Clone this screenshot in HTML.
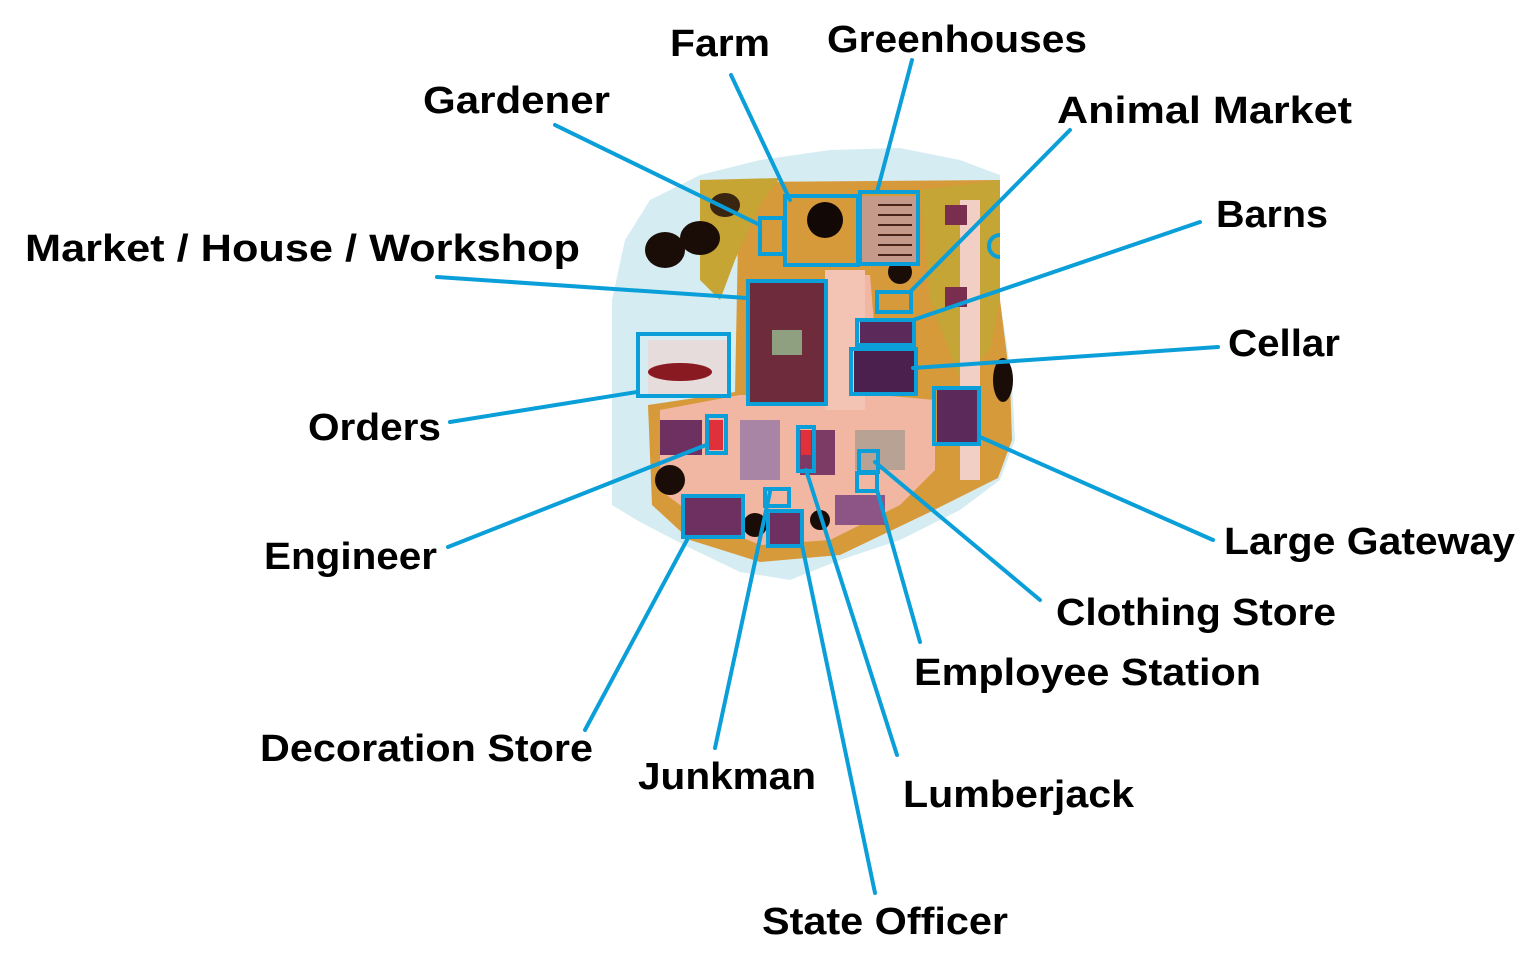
<!DOCTYPE html>
<html><head><meta charset="utf-8"><style>
html,body{margin:0;padding:0;background:#fff;}
svg{display:block;}
text{font-family:"Liberation Sans",sans-serif;font-weight:bold;font-size:38px;fill:#000;}
</style></head><body>
<svg width="1540" height="975" viewBox="0 0 1540 975" xmlns="http://www.w3.org/2000/svg">
<!-- map base -->
<polygon fill="#d6ecf3" points="650,200 700,175 760,160 830,150 900,148 960,160 1000,175 1000,300 1012,380 1015,440 1000,480 960,510 900,540 840,560 790,580 740,572 690,548 640,522 612,505 612,300 625,240"/>
<polygon fill="#d79a3a" points="740,182 1000,180 1000,300 1010,380 1012,440 998,478 930,512 840,555 760,562 690,540 652,505 648,405 735,392 738,240"/>
<polygon fill="#c6a534" points="700,180 780,178 760,205 735,260 720,300 700,280 700,230"/>
<polygon fill="#c5a535" points="920,190 1000,180 1000,300 990,350 960,380 930,300"/>
<!-- pink roads -->
<polygon fill="#f1b7a3" points="740,395 835,395 835,275 870,275 880,395 935,400 935,470 900,505 830,540 760,545 700,520 660,490 660,410"/>
<rect x="825" y="270" width="40" height="140" fill="#f3c3b3"/>
<rect x="960" y="200" width="20" height="280" fill="#f2cfc4"/>
<!-- black blobs -->
<ellipse cx="665" cy="250" rx="20" ry="18" fill="#1a0d08"/>
<ellipse cx="700" cy="238" rx="20" ry="17" fill="#1a0d08"/>
<ellipse cx="725" cy="205" rx="15" ry="12" fill="#3a2510"/>
<ellipse cx="825" cy="220" rx="18" ry="18" fill="#120805"/>
<ellipse cx="900" cy="272" rx="12" ry="12" fill="#1a0d08"/>
<ellipse cx="1003" cy="380" rx="10" ry="22" fill="#1a0d08"/>
<ellipse cx="670" cy="480" rx="15" ry="15" fill="#1a0d08"/>
<ellipse cx="755" cy="525" rx="12" ry="12" fill="#1a0d08"/>
<ellipse cx="820" cy="520" rx="10" ry="10" fill="#1a0d08"/>
<!-- purple blocks -->
<rect x="750" y="283" width="74" height="120" fill="#6e2b3b"/>
<rect x="772" y="330" width="30" height="25" fill="#8fa080"/>
<rect x="862" y="196" width="54" height="66" fill="#c59a8a"/>
<g stroke="#4a2418" stroke-width="2"><line x1="878" y1="205" x2="912" y2="205"/><line x1="878" y1="215" x2="912" y2="215"/><line x1="878" y1="225" x2="912" y2="225"/><line x1="878" y1="235" x2="912" y2="235"/><line x1="878" y1="245" x2="912" y2="245"/><line x1="878" y1="255" x2="912" y2="255"/></g>
<rect x="860" y="322" width="52" height="22" fill="#5c2a5a"/>
<rect x="854" y="351" width="60" height="42" fill="#4b1f4e"/>
<rect x="937" y="390" width="40" height="52" fill="#5c2a5a"/>
<rect x="945" y="205" width="22" height="20" fill="#7a2e4f"/>
<rect x="945" y="287" width="22" height="20" fill="#7a2e4f"/>
<rect x="648" y="340" width="80" height="55" fill="#e7dcdc"/>
<ellipse cx="680" cy="372" rx="32" ry="9" fill="#8a1a22"/>
<rect x="660" y="420" width="42" height="35" fill="#6d3060"/>
<rect x="685" y="498" width="56" height="38" fill="#6d3060"/>
<rect x="770" y="512" width="30" height="32" fill="#6d3060"/>
<rect x="740" y="420" width="40" height="60" fill="#a884a5"/>
<rect x="800" y="430" width="35" height="45" fill="#7b3b64"/>
<rect x="855" y="430" width="50" height="40" fill="#b7a294"/>
<rect x="835" y="495" width="50" height="30" fill="#8c5585"/>
<rect x="709" y="420" width="14" height="30" fill="#e0303a"/>
<rect x="801" y="430" width="10" height="25" fill="#e0303a"/>
<!-- blue boxes -->
<g fill="none" stroke="#0a9fd8" stroke-width="4">
<rect x="760" y="218" width="24" height="36"/>
<rect x="785" y="196" width="73" height="69"/>
<rect x="860" y="192" width="58" height="72"/>
<rect x="877" y="292" width="34" height="20"/>
<rect x="857" y="320" width="57" height="25"/>
<rect x="851" y="349" width="65" height="45"/>
<rect x="748" y="281" width="78" height="123"/>
<rect x="638" y="334" width="91" height="62"/>
<rect x="934" y="388" width="45" height="56"/>
<rect x="707" y="416" width="19" height="37"/>
<rect x="798" y="427" width="16" height="44"/>
<rect x="859" y="451" width="19" height="21"/>
<rect x="857" y="473" width="20" height="18"/>
<rect x="683" y="496" width="60" height="41"/>
<rect x="765" y="489" width="24" height="17"/>
<rect x="768" y="511" width="34" height="35"/>
<path d="M1000,235 a10,10 0 0 0 0,22" />
</g>
<!-- connectors -->
<g stroke="#0a9fd8" stroke-width="4" stroke-linecap="round">
<line x1="555" y1="125" x2="760" y2="225"/>
<line x1="731" y1="75" x2="790" y2="200"/>
<line x1="912" y1="60" x2="877" y2="192"/>
<line x1="1070" y1="130" x2="910" y2="292"/>
<line x1="1200" y1="222" x2="913" y2="320"/>
<line x1="1218" y1="347" x2="913" y2="368"/>
<line x1="437" y1="277" x2="747" y2="298"/>
<line x1="450" y1="422" x2="637" y2="392"/>
<line x1="448" y1="547" x2="706" y2="445"/>
<line x1="1213" y1="540" x2="980" y2="437"/>
<line x1="1040" y1="600" x2="875" y2="462"/>
<line x1="920" y1="642" x2="877" y2="490"/>
<line x1="897" y1="755" x2="806" y2="470"/>
<line x1="875" y1="893" x2="802" y2="545"/>
<line x1="715" y1="748" x2="770" y2="492"/>
<line x1="585" y1="730" x2="688" y2="538"/>
</g>
<!-- labels -->
<text x="670" y="56" textLength="100" lengthAdjust="spacingAndGlyphs">Farm</text>
<text x="827" y="52" textLength="260" lengthAdjust="spacingAndGlyphs">Greenhouses</text>
<text x="423" y="113" textLength="187" lengthAdjust="spacingAndGlyphs">Gardener</text>
<text x="1057" y="123" textLength="295" lengthAdjust="spacingAndGlyphs">Animal Market</text>
<text x="1216" y="227" textLength="112" lengthAdjust="spacingAndGlyphs">Barns</text>
<text x="25" y="261" textLength="555" lengthAdjust="spacingAndGlyphs">Market / House / Workshop</text>
<text x="1228" y="356" textLength="112" lengthAdjust="spacingAndGlyphs">Cellar</text>
<text x="308" y="440" textLength="133" lengthAdjust="spacingAndGlyphs">Orders</text>
<text x="264" y="569" textLength="173" lengthAdjust="spacingAndGlyphs">Engineer</text>
<text x="1224" y="554" textLength="291" lengthAdjust="spacingAndGlyphs">Large Gateway</text>
<text x="1056" y="625" textLength="280" lengthAdjust="spacingAndGlyphs">Clothing Store</text>
<text x="914" y="685" textLength="347" lengthAdjust="spacingAndGlyphs">Employee Station</text>
<text x="260" y="761" textLength="333" lengthAdjust="spacingAndGlyphs">Decoration Store</text>
<text x="638" y="789" textLength="178" lengthAdjust="spacingAndGlyphs">Junkman</text>
<text x="903" y="807" textLength="231" lengthAdjust="spacingAndGlyphs">Lumberjack</text>
<text x="762" y="934" textLength="246" lengthAdjust="spacingAndGlyphs">State Officer</text>
</svg>
</body></html>
